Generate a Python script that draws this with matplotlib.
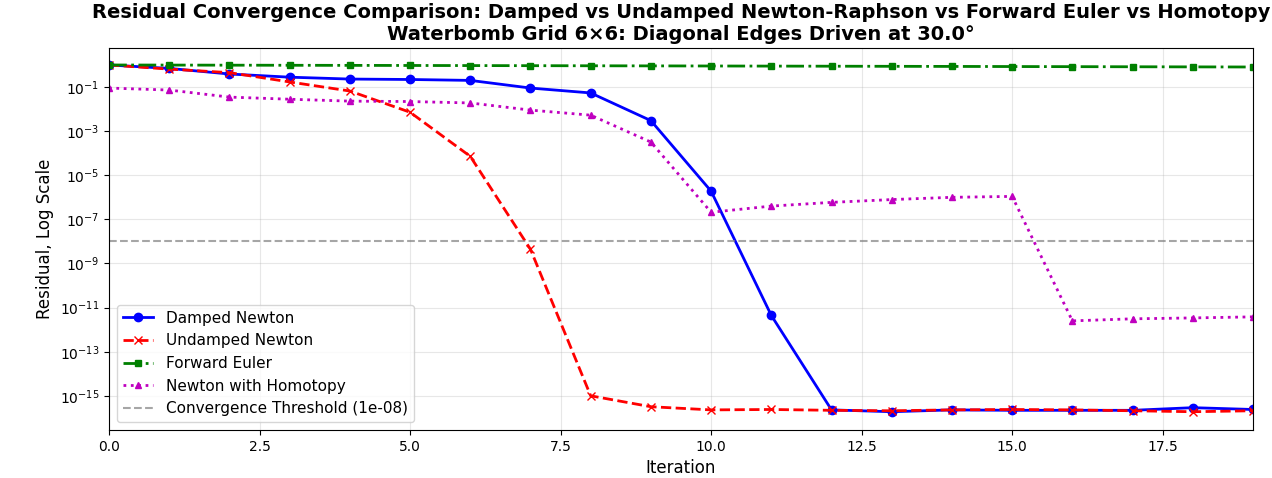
import numpy as np
import matplotlib
matplotlib.use("Agg")
import matplotlib.pyplot as plt

iterations = list(range(20))
damped = [1.0, 0.7, 0.39, 0.28, 0.23, 0.22, 0.2, 0.09, 0.054, 0.003, 1.9e-6, 4.4e-12,
          2.3e-16, 1.9e-16, 2.3e-16, 2.2e-16, 2.2e-16, 2.2e-16, 2.9e-16, 2.4e-16]
undamped = [1.0, 0.65, 0.45, 0.17, 0.066, 0.0072, 7.2e-5, 4.4e-9, 1.0e-15, 3.2e-16, 2.3e-16,
            2.4e-16, 2.2e-16, 2.1e-16, 2.3e-16, 2.4e-16, 2.3e-16, 2.1e-16, 1.9e-16, 2.1e-16]
euler = [1.0, 0.99, 0.98, 0.97, 0.96, 0.95, 0.94, 0.93, 0.92, 0.91, 0.9, 0.89,
         0.88, 0.87, 0.86, 0.85, 0.84, 0.83, 0.82, 0.81]
homotopy = [0.09, 0.073, 0.035, 0.028, 0.023, 0.022, 0.019, 0.009, 0.0053, 3.2e-4, 2.1e-7,
            4.0e-7, 5.9e-7, 7.9e-7, 1.0e-6, 1.1e-6, 2.5e-12, 3.1e-12, 3.4e-12, 3.8e-12]
threshold = 1e-8

fig, ax = plt.subplots(figsize=(12.72, 4.78), dpi=100)
ax.semilogy(iterations, damped, 'b-o', lw=2, ms=6, label='Damped Newton')
ax.semilogy(iterations, undamped, 'r--x', lw=2, ms=6, label='Undamped Newton')
ax.semilogy(iterations, euler, 'g-.s', lw=2, ms=5, label='Forward Euler')
ax.semilogy(iterations, homotopy, 'm:^', lw=2, ms=5, label='Newton with Homotopy')
ax.axhline(threshold, color='gray', ls='--', alpha=0.7, label=f'Convergence Threshold ({threshold:.0e})')
ax.set_xlim(0, 19)
ax.set_ylim(10**-16.55, 10**0.77)
ax.set_xlabel('Iteration', fontsize=12)
ax.set_ylabel('Residual, Log Scale', fontsize=12)
ax.set_title('Residual Convergence Comparison: Damped vs Undamped Newton-Raphson vs Forward Euler vs Homotopy\n'
             'Waterbomb Grid 6×6: Diagonal Edges Driven at 30.0°', fontsize=14, fontweight='bold')
ax.grid(True, alpha=0.3)
ax.legend(loc='lower left', fontsize=11)
fig.subplots_adjust(left=109/1272, right=1253/1272, top=1-48/478, bottom=1-430/478)
fig.savefig('out.png', dpi=100)
